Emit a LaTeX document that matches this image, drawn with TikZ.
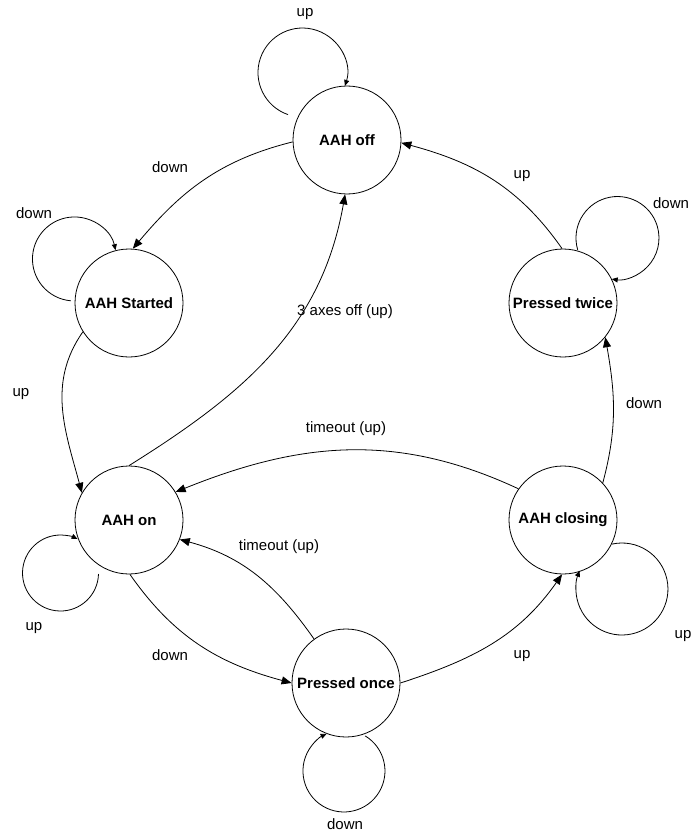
\documentclass[tikz,border=0pt]{standalone}
\usepackage{fontspec}
\setmainfont{Liberation Sans}
\usetikzlibrary{arrows.meta}
\begin{document}
\begin{tikzpicture}[x=1pt,y=1pt,
  state/.style={circle,draw,line width=0.8pt,minimum size=108pt,inner sep=0pt,font=\fontsize{15}{18}\selectfont\bfseries},
  lbl/.style={inner sep=0pt,font=\fontsize{15}{18}\selectfont},
  edg/.style={line width=0.8pt,-{Triangle[length=10pt,width=8pt]}},
  lp/.style={line width=0.8pt,-{Triangle[length=6pt,width=5pt]}}]
\useasboundingbox (0,0) rectangle (691,-832);
% states
\node[state] (off) at (347,-140) {AAH off};
\node[state] (started) at (129,-303) {AAH Started};
\node[state] (twice) at (563,-303) {Pressed twice};
\node[state] (on) at (129,-520) {AAH on};
\node[state] (closing) at (563,-520) {AAH closing};
\node[state] (once) at (346,-683) {Pressed once};
% self loops
\draw[lp] ([shift={(-59,25.4)}]off.center) arc[start angle=251,end angle=-17.6,radius=44.5];
\draw[lp] ([shift={(-58.2,2.2)}]started.center) arc[start angle=265,end angle=12,radius=42];
\draw[lp] ([shift={(14.7,53.2)}]twice.center) arc[start angle=196.5,end angle=-98,radius=41.5];
\draw[lp] ([shift={(-30.5,-54)}]on.center) arc[start angle=-1.5,end angle=-296.6,radius=38];
\draw[lp] ([shift={(49,-24.1)}]closing.center) arc[start angle=102.5,end angle=-203.4,radius=46];
\draw[lp] ([shift={(19.2,-52.9)}]once.center) arc[start angle=58.8,end angle=-245,radius=41];
% edges
\draw[edg] (off.182) to[out=194,in=50] (started.86);
\draw[edg] (started.212) to[out=235,in=105] (on.150);
\draw[edg] (on.90) to[out=32,in=-100] (off.268);
\draw[edg] (twice.91) to[out=125,in=-15] (off.-3);
\draw[edg] (closing.43) to[out=75,in=-80] (twice.-39);
\draw[edg] (closing.145) to[out=155,in=22] (on.31);
\draw[edg] (once.126) to[out=125,in=-15] (on.-21);
\draw[edg] (on.-89) to[out=-55,in=165] (once.180);
\draw[edg] (once.0) to[out=18,in=-125] (closing.-91);
% labels
\node[lbl] (l1) at (305,-14) {up};
\node[lbl] (l2) at (34,-213) {down};
\node[lbl] (l3) at (170,-167) {down};
\node[lbl] (l4) at (345,-312) {3 axes off (up)};
\node[lbl] (l5) at (522,-176) {up};
\node[lbl] (l6) at (671,-203) {down};
\node[lbl] (l7) at (21,-394) {up};
\node[lbl] (l8) at (346,-429) {timeout (up)};
\node[lbl] (l9) at (644,-403) {down};
\node[lbl] (l10) at (279,-547) {timeout (up)};
\node[lbl] (l11) at (170,-655) {down};
\node[lbl] (l12) at (522,-656) {up};
\node[lbl] (l13) at (34,-628) {up};
\node[lbl] (l14) at (683,-636) {up};
\node[lbl] (l15) at (345,-824) {down};
\end{tikzpicture}
\end{document}
